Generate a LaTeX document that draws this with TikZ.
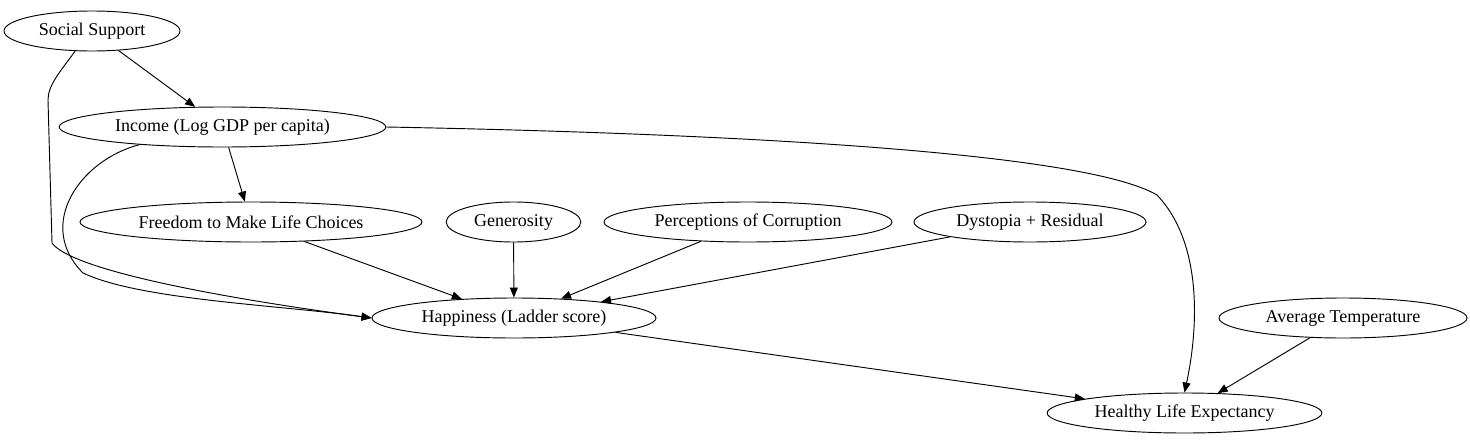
\documentclass[tikz,border=0pt]{standalone}
\usepackage{fontspec}
\setmainfont{Liberation Serif}
\usetikzlibrary{shapes.geometric,arrows.meta}
\begin{document}
\begin{tikzpicture}[x=0.75pt,y=-0.75pt,
  ell/.style={draw,ellipse,line width=0.7pt,inner sep=0pt,minimum height=30pt,font=\fontsize{13.5}{15}\selectfont},
  edge/.style={draw,line width=0.7pt,-{Triangle[length=7.5pt,width=6pt]}}]
\useasboundingbox (0,0) rectangle (1470,443);
\node[ell,minimum width=132pt] (ss) at (92,31) {Social Support};
\node[ell,minimum width=245pt] (inc) at (222.5,127) {Income (Log GDP per capita)};
\node[ell,minimum width=256.5pt] (fr) at (251,222) {Freedom to Make Life Choices};
\node[ell,minimum width=101pt] (gen) at (513.5,222) {Generosity};
\node[ell,minimum width=216pt] (cor) at (748,222) {Perceptions of Corruption};
\node[ell,minimum width=174pt] (dys) at (1030,222) {Dystopia + Residual};
\node[ell,minimum width=213pt] (hap) at (514,318) {Happiness (Ladder score)};
\node[ell,minimum width=186pt] (tmp) at (1343,318) {Average Temperature};
\node[ell,minimum width=206pt] (hle) at (1184.5,413) {Healthy Life Expectancy};
\draw[edge] (ss) -- (inc);
\draw[edge] (ss.-130) .. controls (60,72) and (48,85) .. (48,100) -- (52,243) .. controls (70,268) and (200,295) .. (hap.west);
\draw[edge] (inc) -- (fr);
\draw[edge] (inc.-168) .. controls (80,160) and (35,225) .. (83,273) .. controls (140,300) and (280,305) .. (hap.west);
\draw[edge] (inc.east) .. controls (700,133) and (1080,150) .. (1157,195) .. controls (1200,240) and (1200,320) .. (hle.north);
\draw[edge] (fr) -- (hap);
\draw[edge] (gen) -- (hap);
\draw[edge] (cor) -- (hap);
\draw[edge] (dys) -- (hap);
\draw[edge] (hap) -- (hle);
\draw[edge] (tmp) -- (hle);
\end{tikzpicture}
\end{document}
